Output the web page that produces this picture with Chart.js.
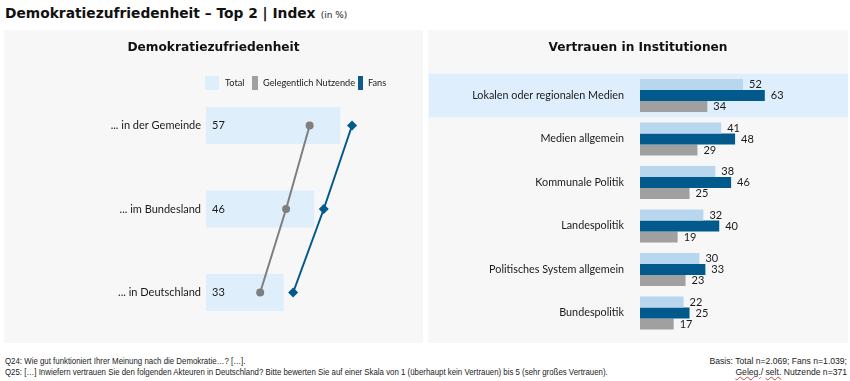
<!DOCTYPE html>
<html lang="de">
<head>
<meta charset="utf-8">
<script src="https://cdn.jsdelivr.net/npm/chart.js@4.4.1/dist/chart.umd.min.js"></script>
<style>
  html, body { margin: 0; padding: 0; background: #ffffff; }
  body { width: 850px; height: 381px; position: relative; overflow: hidden; font-family: Lato, "Liberation Sans", sans-serif; color: #1a1a1a; }
  .panel { position: absolute; background: #f7f7f7; }
  #panelL { left: 4px; top: 30px; width: 419px; height: 313px; }
  #panelR { left: 428px; top: 30px; width: 420px; height: 313px; }
  canvas { position: absolute; left: 0; top: 0; }
  #title { position: absolute; left: 5px; top: 3px; white-space: nowrap; font-family: "DejaVu Sans", sans-serif; }
  #title .main { font-weight: bold; font-size: 13.8px; color: #111; }
  #title .unit { font-size: 9px; color: #222; font-family: "DejaVu Sans", sans-serif; }
  .sub { position: absolute; top: 10px; width: 100%; text-align: center; font-family: "DejaVu Sans", sans-serif; font-weight: bold; font-size: 12.2px; color: #111; z-index: 2; }
  .legend { position: absolute; top: 46px; left: 0; width: 100%; height: 14px; z-index: 2; font-size: 9.2px; color: #222; }
  .legend span { position: absolute; top: 0; line-height: 14px; white-space: nowrap; }
  .legend i { position: absolute; top: 0; height: 14px; display: block; }
  #footL { position: absolute; left: 5px; top: 356px; font-family: "Liberation Sans", sans-serif; font-size: 8.6px; line-height: 11px; color: #222; white-space: nowrap; transform: scaleX(0.915); transform-origin: 0 0; }
  #footR { position: absolute; right: 3px; top: 356px; text-align: right; font-family: "Liberation Sans", sans-serif; font-size: 8.6px; line-height: 11px; color: #222; white-space: nowrap; }
  .wavy { text-decoration: underline wavy #d04040; text-decoration-thickness: 1px; }
</style>
</head>
<body>
<div id="title"><span class="main">Demokratiezufriedenheit – Top 2 | Index</span> <span class="unit">(in %)</span></div>

<div id="panelL" class="panel">
  <div class="sub">Demokratiezufriedenheit</div>
  <div class="legend">
    <i style="left:201px;width:14px;background:#deeefb;"></i><span style="left:221px;">Total</span>
    <i style="left:248px;width:6px;background:#a0a0a0;"></i><span style="left:259px;">Gelegentlich Nutzende</span>
    <i style="left:354px;width:5px;background:#0e5a8a;"></i><span style="left:364px;">Fans</span>
  </div>
  <canvas id="chartL" width="419" height="313"></canvas>
</div>

<div id="panelR" class="panel">
  <div class="sub">Vertrauen in Institutionen</div>
  <canvas id="chartR" width="420" height="313"></canvas>
</div>

<div id="footL">Q24: Wie gut funktioniert Ihrer Meinung nach die Demokratie…? […].<br>Q25: […] Inwiefern vertrauen Sie den folgenden Akteuren in Deutschland? Bitte bewerten Sie auf einer Skala von 1 (überhaupt kein Vertrauen) bis 5 (sehr großes Vertrauen).</div>
<div id="footR">Basis: Total n=2.069; Fans n=1.039;<br><span class="wavy">Geleg.</span>/ <span class="wavy">selt.</span> Nutzende n=371</div>

<script>
// ---- Data ----
const leftCategories = ['... in der Gemeinde', '... im Bundesland', '... in Deutschland'];
const leftTotal = [57, 46, 33];
const leftGelegentlich = [44, 34, 23];
const leftFans = [62, 50, 37];

const rightCategories = ['Lokalen oder regionalen Medien', 'Medien allgemein', 'Kommunale Politik', 'Landespolitik', 'Politisches System allgemein', 'Bundespolitik'];
const rightTotal = [52, 41, 38, 32, 30, 22];
const rightFans = [63, 48, 46, 40, 33, 25];
const rightGelegentlich = [34, 29, 25, 19, 23, 17];

const seriesNames = ['Total', 'Gelegentlich Nutzende', 'Fans'];

// ---- Style ----
const C_TOTAL_L = '#deeefb';
const C_TOTAL_R = '#b9d6ef';
const C_FANS = '#015a8b';
const C_GELEG_BAR = '#a0a0a0';
const C_GELEG_LINE = '#7f7f7f';
const C_BAND = '#deeefc';
const FONT = 'Lato, "Liberation Sans", sans-serif';

function noScalePadding(scale, w) {
  scale.width = w;
  scale.paddingTop = 0;
  scale.paddingBottom = 0;
}

// value labels inside the left bars
const leftLabels = {
  id: 'leftLabels',
  afterDatasetsDraw(chart) {
    const ctx = chart.ctx;
    const meta = chart.getDatasetMeta(0);
    ctx.save();
    ctx.font = '11px ' + FONT;
    ctx.fillStyle = '#1a1a1a';
    ctx.textAlign = 'left';
    ctx.textBaseline = 'middle';
    meta.data.forEach((el, i) => {
      ctx.fillText(String(chart.data.datasets[0].data[i]), el.base + 6, el.y);
    });
    ctx.restore();
  }
};

// highlight band + value labels on right chart
const rightBand = {
  id: 'rightBand',
  beforeDraw(chart) {
    const ctx = chart.ctx;
    const y = chart.scales.y;
    const slot = (y.getPixelForValue(1) - y.getPixelForValue(0));
    const top = y.getPixelForValue(0) - slot / 2;
    ctx.save();
    ctx.fillStyle = C_BAND;
    ctx.fillRect(1, top, chart.width - 1, slot);
    ctx.restore();
  },
  afterDatasetsDraw(chart) {
    const ctx = chart.ctx;
    ctx.save();
    ctx.font = '11px ' + FONT;
    ctx.fillStyle = '#1a1a1a';
    ctx.textAlign = 'left';
    ctx.textBaseline = 'middle';
    chart.data.datasets.forEach((ds, di) => {
      const meta = chart.getDatasetMeta(di);
      meta.data.forEach((el, i) => {
        ctx.fillText(String(ds.data[i]), el.x + 6, el.y);
      });
    });
    ctx.restore();
  }
};

new Chart(document.getElementById('chartL'), {
  type: 'bar',
  data: {
    labels: leftCategories,
    datasets: [
      { type: 'bar', label: seriesNames[0], data: leftTotal, backgroundColor: C_TOTAL_L, barPercentage: 1, categoryPercentage: 0.445, order: 3, indexAxis: 'y' },
      { type: 'line', label: seriesNames[1], data: leftGelegentlich, borderColor: C_GELEG_LINE, backgroundColor: C_GELEG_LINE, borderWidth: 2, pointStyle: 'circle', pointRadius: 4, pointBorderWidth: 0, order: 2, indexAxis: 'y' },
      { type: 'line', label: seriesNames[2], data: leftFans, borderColor: C_FANS, backgroundColor: C_FANS, borderWidth: 2, pointStyle: 'rectRot', pointRadius: 5, pointBorderWidth: 0, order: 1, indexAxis: 'y' }
    ]
  },
  options: {
    indexAxis: 'y',
    responsive: false,
    animation: false,
    layout: { padding: { top: 53.75, bottom: 8.75, right: 5, left: 0 } },
    plugins: { legend: { display: false }, tooltip: { enabled: false } },
    scales: {
      x: { display: false, min: 0, max: 90 },
      y: {
        grid: { display: false, drawTicks: false },
        border: { display: false },
        ticks: { color: '#1a1a1a', font: { family: FONT, size: 11 }, padding: 5 },
        afterFit(scale) { noScalePadding(scale, 202); }
      }
    }
  },
  plugins: [leftLabels]
});

new Chart(document.getElementById('chartR'), {
  type: 'bar',
  data: {
    labels: rightCategories,
    datasets: [
      { label: seriesNames[0], data: rightTotal, backgroundColor: C_TOTAL_R },
      { label: seriesNames[2], data: rightFans, backgroundColor: C_FANS },
      { label: seriesNames[1], data: rightGelegentlich, backgroundColor: C_GELEG_BAR }
    ]
  },
  options: {
    indexAxis: 'y',
    responsive: false,
    animation: false,
    datasets: { bar: { barPercentage: 1, categoryPercentage: 0.76 } },
    layout: { padding: { top: 43.75, bottom: 8.25, right: 0, left: 0 } },
    plugins: { legend: { display: false }, tooltip: { enabled: false } },
    scales: {
      x: { display: false, min: 0, max: 105 },
      y: {
        grid: { display: false, drawTicks: false },
        border: { display: false },
        ticks: { color: '#1a1a1a', font: { family: FONT, size: 10.8 }, padding: 16 },
        afterFit(scale) { noScalePadding(scale, 212); }
      }
    }
  },
  plugins: [rightBand]
});
</script>
</body>
</html>
